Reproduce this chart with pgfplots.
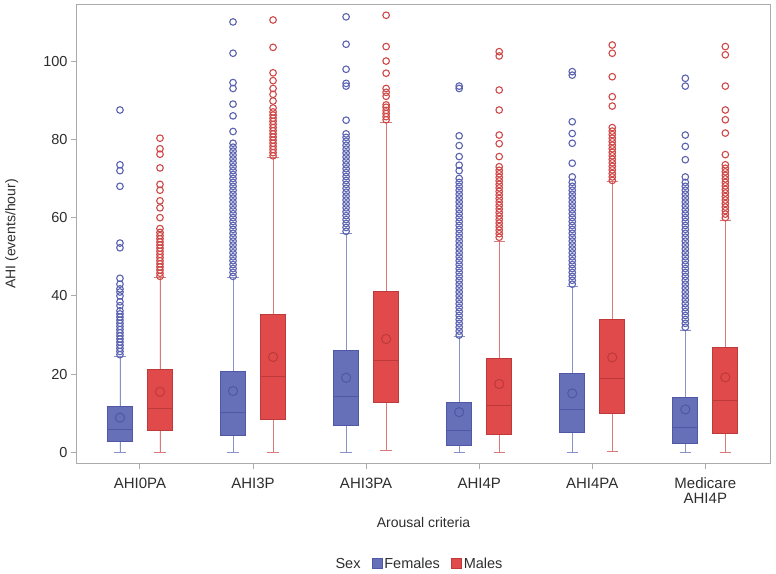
\documentclass[border=0pt]{standalone}
\usepackage{fontspec}
\setmainfont{Liberation Sans}
\usepackage{pgfplots}
\pgfplotsset{compat=1.18}
\usepgfplotslibrary{statistics}

\definecolor{femfill}{HTML}{6670B8}
\definecolor{femedge}{HTML}{4F57A6}
\definecolor{femwhisk}{HTML}{8A90C8}
\definecolor{femout}{HTML}{5A62AF}
\definecolor{malfill}{HTML}{E04A4A}
\definecolor{maledge}{HTML}{BE3A3A}
\definecolor{malwhisk}{HTML}{D87A7A}
\definecolor{malout}{HTML}{CF4848}
\definecolor{axgray}{HTML}{ABABAB}
\definecolor{txt}{HTML}{2E2E2E}

\pgfplotsset{
  fembox/.style={forget plot, boxplot/draw direction=y, fill=femfill, draw=femedge,
    line width=0.9pt, boxplot/box extend=0.22, boxplot/whisker extend=0.1,
    boxplot/every whisker/.style={draw=femwhisk, line width=0.9pt},
    boxplot/every median/.style={draw=femedge, line width=1.1pt}},
  malbox/.style={forget plot, boxplot/draw direction=y, fill=malfill, draw=maledge,
    line width=0.9pt, boxplot/box extend=0.22, boxplot/whisker extend=0.1,
    boxplot/every whisker/.style={draw=malwhisk, line width=0.9pt},
    boxplot/every median/.style={draw=maledge, line width=1.1pt}},
  femmean/.style={forget plot, only marks, mark=o, mark size=4.6pt, line width=1pt, draw=femedge},
  malmean/.style={forget plot, only marks, mark=o, mark size=4.6pt, line width=1pt, draw=maledge},
  femouts/.style={forget plot, only marks, mark=o, mark size=3.3pt, line width=1.1pt, draw=femout},
  malouts/.style={forget plot, only marks, mark=o, mark size=3.3pt, line width=1.1pt, draw=malout},
}

\begin{document}
\begin{tikzpicture}
\path[use as bounding box] (0,0) rectangle (776pt,573pt);
\begin{axis}[
  at={(77pt,109.7pt)}, anchor=south west,
  width=693pt, height=458.6pt, scale only axis,
  xmin=-0.557, xmax=5.572, ymin=-2.76, ymax=114.4,
  xtick={0,...,5},
  xticklabels={AHI0PA,AHI3P,AHI3PA,AHI4P,AHI4PA,{Medicare\\AHI4P}},
  ytick={0,20,...,100},
  xtick pos=lower, ytick pos=left, tick align=outside,
  major tick length=6pt,
  axis line style={draw=axgray, line width=1pt},
  every tick/.style={draw=axgray, line width=1pt},
  /pgf/number format/assume math mode=true,
  tick label style={font=\fontsize{14.5}{14.5}\selectfont, text=txt},
  xticklabel style={align=center, font=\fontsize{15}{14.5}\selectfont, yshift=-5pt},
  xlabel={Arousal criteria},
  ylabel={AHI (events/hour)},
  label style={font=\fontsize{14}{15}\selectfont, text=txt},
  xlabel style={at={(axis description cs:0.5,-0.128)}, anchor=center},
  ylabel style={at={(axis description cs:-0.094,0.5)}, anchor=center},
  legend columns=3,
  legend style={draw=none, at={(axis description cs:0.4935,-0.219)}, anchor=center,
    font=\fontsize{14.5}{15}\selectfont, text=txt, inner sep=0pt,
    nodes={inner xsep=1.5pt},
    /tikz/every even column/.append style={column sep=10pt}},
  legend image code/.code={\draw[#1] (0pt,-5pt) rectangle (10pt,5pt);},
]

% Females
\addplot[fembox, boxplot prepared={draw position=-0.177, lower whisker=0, lower quartile=2.9, median=5.9, upper quartile=11.7, upper whisker=24.6}] coordinates {};
\addplot[fembox, boxplot prepared={draw position=0.823, lower whisker=0, lower quartile=4.4, median=10.3, upper quartile=20.6, upper whisker=44.6}] coordinates {};
\addplot[fembox, boxplot prepared={draw position=1.823, lower whisker=0, lower quartile=7.0, median=14.3, upper quartile=26.0, upper whisker=56.0}] coordinates {};
\addplot[fembox, boxplot prepared={draw position=2.823, lower whisker=0, lower quartile=1.8, median=5.6, upper quartile=12.8, upper whisker=29.6}] coordinates {};
\addplot[fembox, boxplot prepared={draw position=3.823, lower whisker=0, lower quartile=5.2, median=11.0, upper quartile=20.2, upper whisker=42.4}] coordinates {};
\addplot[fembox, boxplot prepared={draw position=4.823, lower whisker=0, lower quartile=2.3, median=6.3, upper quartile=14.0, upper whisker=31.3}] coordinates {};

% Males
\addplot[malbox, boxplot prepared={draw position=0.177, lower whisker=0, lower quartile=5.6, median=11.2, upper quartile=21.3, upper whisker=44.6}] coordinates {};
\addplot[malbox, boxplot prepared={draw position=1.177, lower whisker=0, lower quartile=8.5, median=19.5, upper quartile=35.3, upper whisker=75.4}] coordinates {};
\addplot[malbox, boxplot prepared={draw position=2.177, lower whisker=0.5, lower quartile=12.8, median=23.4, upper quartile=41.1, upper whisker=84.2}] coordinates {};
\addplot[malbox, boxplot prepared={draw position=3.177, lower whisker=0, lower quartile=4.5, median=12.1, upper quartile=23.9, upper whisker=54.0}] coordinates {};
\addplot[malbox, boxplot prepared={draw position=4.177, lower whisker=0.2, lower quartile=10.0, median=18.9, upper quartile=34.0, upper whisker=69.2}] coordinates {};
\addplot[malbox, boxplot prepared={draw position=5.177, lower whisker=0, lower quartile=4.9, median=13.2, upper quartile=26.8, upper whisker=59.4}] coordinates {};

% Means
\addplot[femmean] coordinates {(-0.177,8.9) (0.823,15.7) (1.823,19.1) (2.823,10.3) (3.823,15.1) (4.823,11.0)};
\addplot[malmean] coordinates {(0.177,15.5) (1.177,24.4) (2.177,29.0) (3.177,17.5) (4.177,24.3) (5.177,19.2)};

% Outliers, females
\addplot[femouts] coordinates {
(-0.177,25) (-0.177,25.8) (-0.177,26.6) (-0.177,27.4) (-0.177,28.2) (-0.177,29) (-0.177,29.8)
(-0.177,30.6) (-0.177,31.4) (-0.177,32.2) (-0.177,33) (-0.177,33.8) (-0.177,34.6) (-0.177,35.4)
(-0.177,36.2) (-0.177,37.5) (-0.177,38.5) (-0.177,40) (-0.177,41) (-0.177,41.8) (-0.177,43)
(-0.177,44.5) (-0.177,52.3) (-0.177,53.5) (-0.177,68) (-0.177,72) (-0.177,73.5) (-0.177,87.5)
};
\addplot[femouts] coordinates {
(0.823,45) (0.823,46) (0.823,47) (0.823,48) (0.823,49) (0.823,50) (0.823,51) (0.823,52)
(0.823,53) (0.823,54) (0.823,55) (0.823,56) (0.823,57) (0.823,58) (0.823,59) (0.823,60)
(0.823,61) (0.823,62) (0.823,63) (0.823,64) (0.823,65) (0.823,66) (0.823,67) (0.823,68)
(0.823,69) (0.823,70) (0.823,71) (0.823,72) (0.823,73) (0.823,74) (0.823,75) (0.823,76)
(0.823,77) (0.823,78) (0.823,79) (0.823,82) (0.823,86) (0.823,89) (0.823,93) (0.823,94.5)
(0.823,102) (0.823,110)
};
\addplot[femouts] coordinates {
(1.823,56.5) (1.823,57.5) (1.823,58.5) (1.823,59.5) (1.823,60.5) (1.823,61.5) (1.823,62.5)
(1.823,63.5) (1.823,64.5) (1.823,65.5) (1.823,66.5) (1.823,67.5) (1.823,68.5) (1.823,69.5)
(1.823,70.5) (1.823,71.5) (1.823,72.5) (1.823,73.5) (1.823,74.5) (1.823,75.5) (1.823,76.5)
(1.823,77.5) (1.823,78.5) (1.823,79.5) (1.823,80.5) (1.823,81.4) (1.823,84.9) (1.823,93.6)
(1.823,94.3) (1.823,97.9) (1.823,104.3) (1.823,111.3)
};
\addplot[femouts] coordinates {
(2.823,30) (2.823,31) (2.823,32) (2.823,33) (2.823,34) (2.823,35) (2.823,36) (2.823,37)
(2.823,38) (2.823,39) (2.823,40) (2.823,41) (2.823,42) (2.823,43) (2.823,44) (2.823,45)
(2.823,46) (2.823,47) (2.823,48) (2.823,49) (2.823,50) (2.823,51) (2.823,52) (2.823,53)
(2.823,54) (2.823,55) (2.823,56) (2.823,57) (2.823,58) (2.823,59) (2.823,60) (2.823,61)
(2.823,62) (2.823,63) (2.823,64) (2.823,65) (2.823,66) (2.823,67) (2.823,68) (2.823,69)
(2.823,70) (2.823,72) (2.823,73.4) (2.823,75.6) (2.823,78.4) (2.823,80.9) (2.823,93) (2.823,93.6)
};
\addplot[femouts] coordinates {
(3.823,43) (3.823,44) (3.823,45) (3.823,46) (3.823,47) (3.823,48) (3.823,49) (3.823,50)
(3.823,51) (3.823,52) (3.823,53) (3.823,54) (3.823,55) (3.823,56) (3.823,57) (3.823,58)
(3.823,59) (3.823,60) (3.823,61) (3.823,62) (3.823,63) (3.823,64) (3.823,65) (3.823,66)
(3.823,67) (3.823,68) (3.823,69) (3.823,70.4) (3.823,73.9) (3.823,79) (3.823,81.5)
(3.823,84.5) (3.823,96.4) (3.823,97.3)
};
\addplot[femouts] coordinates {
(4.823,32) (4.823,33) (4.823,34) (4.823,35) (4.823,36) (4.823,37) (4.823,38) (4.823,39)
(4.823,40) (4.823,41) (4.823,42) (4.823,43) (4.823,44) (4.823,45) (4.823,46) (4.823,47)
(4.823,48) (4.823,49) (4.823,50) (4.823,51) (4.823,52) (4.823,53) (4.823,54) (4.823,55)
(4.823,56) (4.823,57) (4.823,58) (4.823,59) (4.823,60) (4.823,61) (4.823,62) (4.823,63)
(4.823,64) (4.823,65) (4.823,66) (4.823,67) (4.823,68) (4.823,69) (4.823,70.4) (4.823,74.8)
(4.823,78.2) (4.823,81.1) (4.823,93.6) (4.823,95.6)
};

% Outliers, males
\addplot[malouts] coordinates {
(0.177,45) (0.177,45.8) (0.177,46.6) (0.177,47.4) (0.177,48.2) (0.177,49) (0.177,49.8)
(0.177,50.6) (0.177,51.4) (0.177,52.2) (0.177,53) (0.177,53.8) (0.177,54.6) (0.177,55.4)
(0.177,56.2) (0.177,57.2) (0.177,60) (0.177,62.5) (0.177,64.3) (0.177,67) (0.177,68.5)
(0.177,72.7) (0.177,76.2) (0.177,77.6) (0.177,80.3)
};
\addplot[malouts] coordinates {
(1.177,75.8) (1.177,76.6) (1.177,77.4) (1.177,78.2) (1.177,79) (1.177,79.8) (1.177,80.6)
(1.177,81.4) (1.177,82.2) (1.177,83) (1.177,83.8) (1.177,84.6) (1.177,85.4) (1.177,86.2)
(1.177,87) (1.177,88) (1.177,89.8) (1.177,91.5) (1.177,93) (1.177,95) (1.177,97)
(1.177,103.5) (1.177,110.5)
};
\addplot[malouts] coordinates {
(2.177,85) (2.177,85.8) (2.177,86.6) (2.177,87.4) (2.177,88.2) (2.177,88.8) (2.177,91)
(2.177,92) (2.177,93) (2.177,96.9) (2.177,100) (2.177,103.7) (2.177,111.7)
};
\addplot[malouts] coordinates {
(3.177,55) (3.177,55.9) (3.177,56.8) (3.177,57.7) (3.177,58.6) (3.177,59.5) (3.177,60.4)
(3.177,61.3) (3.177,62.2) (3.177,63.1) (3.177,64) (3.177,64.9) (3.177,65.8) (3.177,66.7)
(3.177,67.6) (3.177,68.5) (3.177,69.4) (3.177,70.3) (3.177,71.2) (3.177,72.1) (3.177,73)
(3.177,75.6) (3.177,78.9) (3.177,81.1) (3.177,87.5) (3.177,92.6) (3.177,101.3) (3.177,102.4)
};
\addplot[malouts] coordinates {
(4.177,69.5) (4.177,70.4) (4.177,71.3) (4.177,72.2) (4.177,73.1) (4.177,74) (4.177,74.9)
(4.177,75.8) (4.177,76.7) (4.177,77.6) (4.177,78.5) (4.177,79.4) (4.177,80.3) (4.177,81.2)
(4.177,82.1) (4.177,83) (4.177,88.5) (4.177,90.9) (4.177,96) (4.177,102) (4.177,104.1)
};
\addplot[malouts] coordinates {
(5.177,60) (5.177,60.9) (5.177,61.8) (5.177,62.7) (5.177,63.6) (5.177,64.5) (5.177,65.4)
(5.177,66.3) (5.177,67.2) (5.177,68.1) (5.177,69) (5.177,69.9) (5.177,70.8) (5.177,71.7)
(5.177,72.6) (5.177,73.5) (5.177,76.1) (5.177,81.6) (5.177,85) (5.177,87.5) (5.177,93.6)
(5.177,101.6) (5.177,103.7)
};

% Legend
\addlegendimage{empty legend}
\addlegendentry{Sex}
\addlegendimage{fill=femfill, draw=femedge, line width=0.8pt}
\addlegendentry{Females}
\addlegendimage{fill=malfill, draw=maledge, line width=0.8pt}
\addlegendentry{Males}
\end{axis}
\end{tikzpicture}
\end{document}
